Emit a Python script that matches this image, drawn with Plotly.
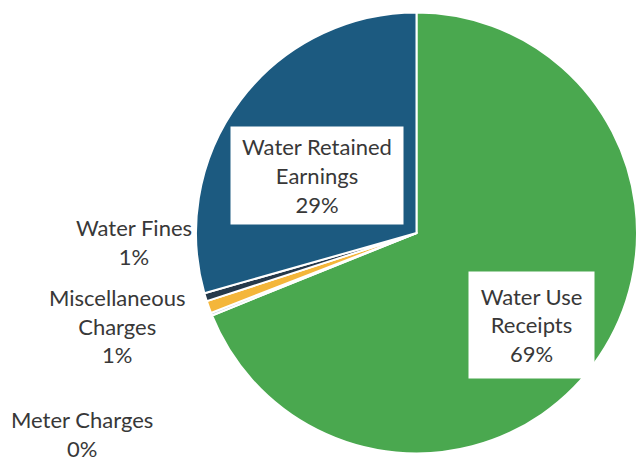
import textwrap
import plotly.graph_objects as go

labels = ["Water Use Receipts", "Meter Charges", "Miscellaneous Charges",
          "Water Fines", "Water Retained Earnings"]
values = [68.9, 0.2, 0.9, 0.6, 29.4]
colors = ["#4aa84f", "#c9d6df", "#f4b63a", "#26394a", "#1c5a80"]

total = sum(values)
pct = [f"{round(v / total * 100)}%" for v in values]

W, H = 637, 465

fig = go.Figure(go.Pie(
    labels=labels, values=values, sort=False, direction="clockwise",
    rotation=0, textinfo="none", hoverinfo="label+percent",
    marker=dict(colors=colors, line=dict(color="white", width=2)),
    domain=dict(x=[196 / W, 1.0], y=[1 - 456 / H, 1 - 10 / H]),
))

# label layout: (index, wrap width, center x px, center y px, boxed, box w, box h)
label_layout = [
    (4, 14, 317, 175, True, 170, 95),
    (0, 9, 531, 325, True, 123, 104),
    (3, 11, 134, 242, False, None, None),
    (2, 13, 117, 326, False, None, None),
    (1, 13, 82, 434, False, None, None),
]

font = dict(family="Lato, 'Open Sans', sans-serif", size=22, color="#383838")
for idx, wrap, cx, cy, boxed, bw, bh in label_layout:
    text = "<br>".join(textwrap.wrap(labels[idx], wrap) + [pct[idx]])
    ann = dict(text=text, x=cx / W, y=1 - cy / H, xref="paper", yref="paper",
               xanchor="center", yanchor="middle", showarrow=False,
               align="center", font=font)
    if boxed:
        ann.update(bgcolor="white", width=bw, height=bh, valign="middle")
    fig.add_annotation(**ann)

fig.update_layout(width=W, height=H, margin=dict(l=0, r=0, t=0, b=0),
                  paper_bgcolor="white", plot_bgcolor="white", showlegend=False)
fig.write_html("out.html", config={"displayModeBar": False},
               post_script="document.body.style.margin='0';document.body.style.overflow='hidden';")
